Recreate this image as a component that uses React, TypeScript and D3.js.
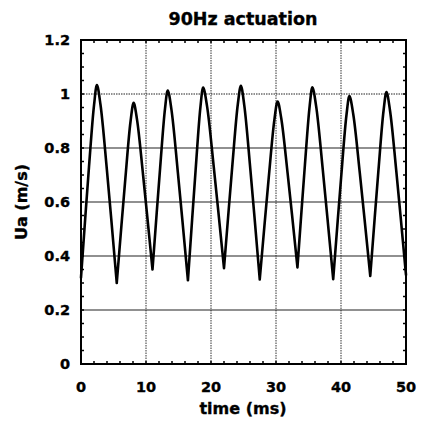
import React from "react";
import * as d3 from "d3";

const title = "90Hz actuation";
const xLabel = "time (ms)";
const yLabel = "Ua (m/s)";
const xTicks = [0, 10, 20, 30, 40, 50];
const yTicks = [0, 0.2, 0.4, 0.6, 0.8, 1, 1.2];
const yTickLabels = ["0", "0.2", "0.4", "0.6", "0.8", "1", "1.2"];

// time (ms) and velocity (m/s)
const timeMs = [
  0, 1.23, 2.01, 2.45, 3.0, 3.98, 5.5, 6.8, 7.63, 8.1, 8.62, 9.55, 11.0, 12.18, 12.93, 13.35,
  13.91, 14.9, 16.45, 17.63, 18.38, 18.8, 19.38, 20.4, 22.0, 23.3, 24.13, 24.6, 25.12, 26.05,
  27.5, 28.88, 29.76, 30.25, 30.8, 31.78, 33.3, 34.45, 35.19, 35.6, 36.18, 37.2, 38.8, 40.05,
  40.85, 41.3, 41.88, 42.9, 44.5, 45.75, 46.55, 47.0, 47.54, 48.5, 50.0,
];
const velocity = [
  0.32, 0.73, 0.96, 1.033, 0.96, 0.72, 0.3, 0.68, 0.9, 0.967, 0.905, 0.7, 0.35, 0.728, 0.947, 1.013,
  0.943, 0.71, 0.31, 0.717, 0.953, 1.024, 0.957, 0.736, 0.355, 0.74, 0.963, 1.03, 0.958, 0.722,
  0.313, 0.689, 0.906, 0.972, 0.911, 0.708, 0.358, 0.738, 0.958, 1.025, 0.954, 0.719, 0.314, 0.7,
  0.924, 0.992, 0.926, 0.706, 0.326, 0.714, 0.939, 1.007, 0.939, 0.716, 0.33,
];
// indices of the troughs (cusps) in the series
const troughIdx = [0, 6, 12, 18, 24, 30, 36, 42, 48, 54];

const W = 422;
const H = 422;
const L = 81, R = 406, T = 40, B = 364;
const FONT = "'DejaVu Sans', sans-serif";

export default function App() {
  const x = d3.scaleLinear().domain([0, 50]).range([L, R]);
  const y = d3.scaleLinear().domain([0, 1.2]).range([B, T]);
  const pts: [number, number][] = timeMs.map((t, i) => [t, velocity[i]]);
  const line = d3
    .line<[number, number]>()
    .x((d) => x(d[0]))
    .y((d) => y(d[1]))
    .curve(d3.curveCatmullRom.alpha(0.5));
  const arches = troughIdx.slice(0, -1).map((s, k) => pts.slice(s, troughIdx[k + 1] + 1));
  const d = arches.map((a) => line(a) ?? "").join(" ");
  const xMinor = d3.range(0, 50.001, 2);
  const yMinor = d3.range(0, 1.2001, 0.05);
  const txt = { fontFamily: FONT, fontWeight: "bold" as const, stroke: "#000", strokeWidth: 0.35 };
  return (
    <svg
      width={W}
      height={H}
      style={{ position: "absolute", left: 0, top: 0, background: "#fff" }}
    >
      <text x={243} y={25} textAnchor="middle" fontSize={17.5} {...txt}>
        {title}
      </text>
      {/* grid */}
      {xTicks.slice(1, -1).map((t) => (
        <line key={"gx" + t} x1={x(t)} x2={x(t)} y1={T} y2={B} stroke="#333" strokeWidth={1} strokeDasharray="1.5,1" />
      ))}
      {yTicks.slice(1, -1).map((t) => (
        <line
          key={"gy" + t}
          x1={L}
          x2={R}
          y1={y(t)}
          y2={y(t)}
          stroke="#222"
          strokeWidth={t === 1 ? 1 : 1.2}
          strokeDasharray={t === 1 ? "1.5,1" : undefined}
        />
      ))}
      {/* minor ticks */}
      {xMinor.map((t) => (
        <g key={"mx" + t}>
          <line x1={x(t)} x2={x(t)} y1={B} y2={B - 3} stroke="#000" strokeWidth={1.5} />
          <line x1={x(t)} x2={x(t)} y1={T} y2={T + 3} stroke="#000" strokeWidth={1.5} />
        </g>
      ))}
      {yMinor.map((t) => (
        <g key={"my" + t.toFixed(2)}>
          <line x1={L} x2={L + 3} y1={y(t)} y2={y(t)} stroke="#000" strokeWidth={1.5} />
          <line x1={R} x2={R - 3} y1={y(t)} y2={y(t)} stroke="#000" strokeWidth={1.5} />
        </g>
      ))}
      {/* curve */}
      <path d={d} fill="none" stroke="#000" strokeWidth={2.6} strokeLinejoin="round" strokeLinecap="round" />
      {/* frame */}
      <rect x={L} y={T} width={R - L} height={B - T} fill="none" stroke="#000" strokeWidth={2} />
      {/* tick labels */}
      {xTicks.map((t) => (
        <text key={"xl" + t} x={x(t)} y={392} textAnchor="middle" fontSize={14.5} {...txt}>
          {t}
        </text>
      ))}
      {yTicks.map((t, i) => (
        <text key={"yl" + t} x={70} y={y(t)} dy="0.36em" textAnchor="end" fontSize={14.5} {...txt}>
          {yTickLabels[i]}
        </text>
      ))}
      <text x={243} y={414} textAnchor="middle" fontSize={16} {...txt}>
        {xLabel}
      </text>
      <text transform={`translate(27,${(T + B) / 2}) rotate(-90)`} textAnchor="middle" fontSize={16} {...txt}>
        {yLabel}
      </text>
    </svg>
  );
}
